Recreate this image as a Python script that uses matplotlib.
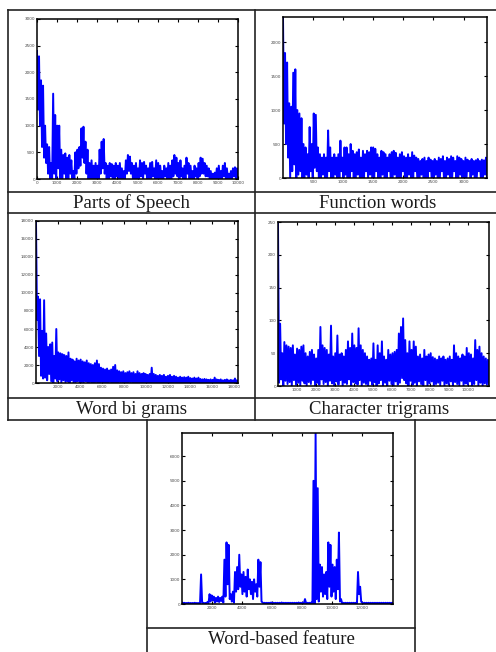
import numpy as np
import matplotlib
matplotlib.use("Agg")
import matplotlib.pyplot as plt
from matplotlib.lines import Line2D

# ---- data: upper (peak) and lower (trough) values per step ----
pos_hi = [2400, 2300, 1850, 1750, 1000, 650, 600, 300, 1600, 1200,
          1000, 1000, 550, 450, 480, 400, 450, 350, 150, 500,
          550, 600, 950, 980, 700, 550, 300, 350, 250, 300,
          250, 550, 700, 750, 300, 250, 300, 280, 250, 300,
          250, 300, 200, 150, 350, 450, 420, 300, 250, 300,
          200, 350, 300, 320, 250, 200, 300, 320, 200, 350,
          300, 250, 150, 250, 200, 300, 250, 350, 450, 400,
          300, 350, 200, 250, 400, 300, 250, 150, 250, 200,
          300, 400, 380, 300, 250, 200, 150, 100, 120, 200,
          250, 150, 250, 300, 200, 100, 150, 200, 220, 200]
pos_lo = [1300, 1000, 600, 400, 300, 100, 0, 0, 100, 0,
          200, 0, 0, 100, 0, 0, 100, 0, 0, 100,
          200, 250, 400, 300, 100, 0, 0, 0, 0, 0,
          0, 100, 200, 100, 0, 0, 50, 0, 0, 50,
          0, 0, 0, 0, 100, 150, 100, 0, 0, 0,
          0, 50, 0, 100, 0, 0, 0, 50, 0, 0,
          0, 0, 0, 50, 0, 0, 0, 50, 100, 50,
          0, 50, 0, 0, 100, 0, 0, 0, 50, 0,
          50, 100, 100, 50, 50, 0, 0, 0, 0, 0,
          0, 0, 50, 0, 0, 0, 0, 50, 0, 0]

fw_hi = [2370, 1840, 1700, 1100, 1050, 1550, 1600, 1000, 950, 880,
         500, 450, 350, 750, 500, 950, 930, 450, 350, 300,
         350, 300, 700, 450, 300, 350, 300, 350, 550, 300,
         450, 450, 350, 500, 400, 350, 380, 420, 300, 400,
         350, 400, 380, 450, 450, 430, 350, 300, 400, 380,
         350, 300, 350, 380, 400, 370, 300, 350, 380, 320,
         300, 350, 300, 380, 330, 300, 280, 250, 280, 300,
         250, 300, 270, 250, 280, 250, 300, 280, 320, 250,
         300, 280, 320, 300, 250, 320, 300, 280, 250, 300,
         270, 250, 280, 250, 260, 280, 250, 270, 260, 300]
fw_lo = [800, 500, 300, 0, 100, 200, 0, 50, 100, 0,
         0, 50, 0, 100, 0, 150, 100, 0, 0, 50,
         0, 0, 100, 0, 0, 50, 0, 0, 100, 0,
         50, 0, 0, 100, 0, 0, 50, 0, 0, 0,
         100, 0, 50, 0, 0, 100, 0, 0, 50, 0,
         0, 100, 0, 0, 50, 0, 0, 0, 100, 0,
         0, 50, 0, 0, 100, 0, 0, 50, 0, 0,
         0, 100, 0, 0, 50, 0, 0, 100, 0, 0,
         50, 0, 0, 100, 0, 0, 50, 0, 0, 0,
         100, 0, 50, 0, 0, 100, 0, 0, 50, 0]

wb_hi = [18000, 9600, 9300, 5800, 9200, 5500, 4000, 4300, 4500, 3000,
         6000, 3400, 3300, 3200, 3100, 3000, 3400, 2700, 2600, 2400,
         2700, 2500, 2600, 2400, 2300, 2500, 2200, 2100, 2000, 2200,
         2500, 2100, 1700, 1600, 1500, 1600, 1400, 1500, 1800, 2000,
         1400, 1300, 1200, 1300, 1100, 1200, 1300, 1100, 1200, 1000,
         1300, 1100, 1000, 1100, 1000, 900, 1000, 1700, 1000, 900,
         800, 900, 800, 900, 700, 800, 900, 700, 800, 700,
         600, 700, 600, 650, 600, 700, 550, 500, 600, 500,
         600, 450, 400, 450, 400, 350, 400, 350, 600, 400,
         350, 400, 300, 350, 400, 300, 350, 300, 500, 300]
wb_lo = [7000, 3000, 800, 500, 600, 300, 1000, 200, 0, 500,
         200, 400, 0, 300, 100, 200, 0, 300, 0, 100,
         200, 0, 100, 0, 200, 0, 100, 0, 0, 100,
         0, 0, 100, 0, 0, 0, 100, 0, 0, 0,
         0, 100, 0, 0, 0, 0, 100, 0, 0, 0,
         0, 0, 0, 100, 0, 0, 0, 0, 0, 0,
         0, 50, 0, 0, 0, 50, 0, 0, 0, 0,
         50, 0, 0, 0, 0, 0, 50, 0, 0, 0,
         0, 0, 0, 50, 0, 0, 0, 0, 50, 0,
         0, 0, 0, 0, 50, 0, 0, 0, 0, 0]

ct_hi = [250, 95, 50, 67, 62, 60, 58, 62, 48, 57,
         55, 60, 62, 50, 45, 52, 55, 48, 42, 55,
         90, 62, 58, 55, 48, 92, 45, 50, 77, 48,
         50, 45, 55, 68, 58, 80, 62, 58, 88, 62,
         55, 50, 45, 40, 42, 65, 40, 62, 50, 68,
         45, 40, 55, 48, 50, 52, 55, 80, 90, 103,
         70, 50, 68, 55, 68, 60, 45, 48, 42, 55,
         45, 48, 50, 44, 42, 40, 45, 42, 45, 40,
         42, 45, 40, 62, 50, 45, 42, 48, 45, 58,
         50, 48, 42, 70, 55, 60, 50, 45, 42, 40]
ct_lo = [5, 10, 0, 8, 3, 6, 0, 9, 2, 5,
         0, 8, 4, 0, 6, 3, 9, 0, 5, 2,
         10, 3, 6, 0, 8, 4, 0, 7, 2, 9,
         0, 5, 3, 10, 0, 6, 4, 2, 9, 0,
         5, 3, 0, 8, 2, 6, 0, 4, 9, 1,
         5, 0, 8, 3, 0, 7, 2, 5, 12, 9,
         4, 0, 8, 2, 5, 0, 7, 3, 1, 9,
         0, 4, 7, 0, 3, 5, 1, 8, 0, 4,
         2, 7, 0, 6, 3, 1, 8, 0, 4, 2,
         7, 0, 3, 9, 1, 5, 0, 4, 2, 3]

wf_hi = [60, 50, 40, 50, 40, 40, 50, 40, 40, 1200,
         50, 40, 80, 400, 350, 300, 250, 300, 250, 300,
         1800, 2500, 2400, 400, 500, 1300, 1500, 2000, 1200, 1300,
         1100, 1400, 1000, 900, 1000, 800, 1800, 1700, 60, 50,
         50, 50, 60, 50, 50, 50, 50, 60, 50, 50,
         50, 50, 50, 50, 50, 60, 50, 50, 200, 50,
         50, 60, 5000, 6940, 4700, 1600, 1500, 1200, 1300, 2500,
         2400, 1600, 1500, 1800, 2900, 200, 50, 50, 50, 50,
         50, 50, 50, 1300, 700, 50, 50, 50, 50, 50,
         50, 50, 50, 50, 50, 50, 50, 50, 50, 50]
wf_lo = [30, 30, 30, 30, 30, 30, 30, 30, 30, 40,
         30, 30, 30, 100, 150, 50, 100, 80, 120, 60,
         300, 800, 200, 100, 50, 500, 600, 700, 400, 500,
         300, 600, 400, 200, 500, 300, 700, 100, 30, 30,
         30, 30, 30, 30, 30, 30, 30, 30, 30, 30,
         30, 30, 30, 30, 30, 30, 30, 30, 30, 30,
         30, 30, 0, 200, 100, 500, 300, 400, 200, 700,
         300, 500, 200, 600, 100, 30, 30, 30, 30, 30,
         30, 30, 30, 400, 100, 30, 30, 30, 30, 30,
         30, 30, 30, 30, 30, 30, 30, 30, 30, 30]

captions = ["Parts of Speech", "Function words", "Word bi grams",
            "Character trigrams", "Word-based feature"]

# x range, y range, tick positions for each panel
xlims = [10000, 3390, 18400, 11100, 14070]
ylims = [3000, 2370, 18000, 250, 6940]
xticks = [np.arange(0, 10001, 1000), np.arange(500, 3001, 500), np.arange(2000, 18001, 2000),
          np.arange(1000, 10001, 1000), np.arange(2000, 12001, 2000)]
yticks = [np.arange(0, 3001, 500), np.arange(0, 2001, 500), np.arange(0, 18001, 2000),
          np.arange(0, 251, 50), np.arange(0, 6001, 1000)]
series = [(pos_hi, pos_lo), (fw_hi, fw_lo), (wb_hi, wb_lo), (ct_hi, ct_lo), (wf_hi, wf_lo)]

W, H = 496, 652
fig = plt.figure(figsize=(W / 100, H / 100), dpi=100)

# axes boxes in pixels: left, top, right, bottom
boxes = [(37, 19, 238, 179), (283, 17, 487, 178), (36, 221, 238, 383),
         (278, 222, 489, 386), (182, 433, 393, 604)]

for k in range(5):
    l, t, r, b = boxes[k]
    ax = fig.add_axes([l / W, 1 - b / H, (r - l) / W, (b - t) / H])
    hi, lo = series[k]
    y = np.column_stack([hi, lo]).ravel()
    x = np.linspace(0, xlims[k], len(y))
    ax.plot(x, y, color="#0000ff", lw=1.4)
    ax.set_xlim(0, xlims[k])
    ax.set_ylim(0, ylims[k])
    ax.set_xticks(xticks[k])
    ax.set_yticks(yticks[k])
    ax.tick_params(direction="in", length=2.5, width=0.8, labelsize=3, pad=1.5,
                   top=True, right=True, labelcolor="#444444")
    for s in ax.spines.values():
        s.set_linewidth(1.1)
        s.set_zorder(3)

# table lines
def hline(y, x0, x1):
    fig.add_artist(Line2D([x0 / W, x1 / W], [1 - y / H, 1 - y / H], color="#222222", lw=1.2))

def vline(x, y0, y1):
    fig.add_artist(Line2D([x / W, x / W], [1 - y0 / H, 1 - y1 / H], color="#222222", lw=1.2))

hline(10, 8, 496)
for yy in [192, 213, 398, 420]:
    hline(yy, 8, 496)
vline(8, 10, 420)
vline(255, 10, 420)
vline(147, 420, 652)
vline(415, 420, 652)
hline(628, 147, 415)

cap_pos = [(131, 203), (378, 203), (132, 409), (379, 409), (281, 640)]
for c, (cx, cy) in zip(captions, cap_pos):
    fig.text(cx / W, 1 - cy / H, c, ha="center", va="center",
             family="Liberation Serif", fontsize=13.5, color="#1a1a1a")

fig.savefig("out.png", dpi=100)
